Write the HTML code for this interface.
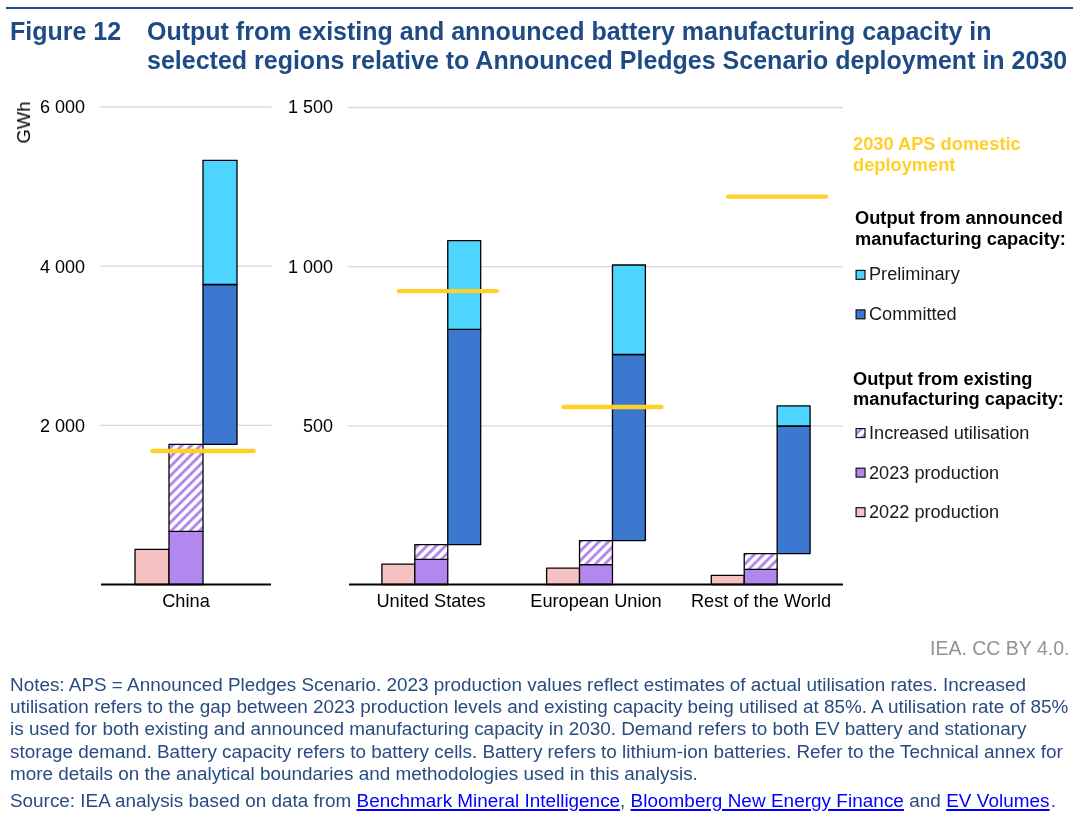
<!DOCTYPE html>
<html><head><meta charset="utf-8">
<style>
html,body{margin:0;padding:0;background:#fff;}
body{width:1080px;height:821px;overflow:hidden;position:relative;font-family:"Liberation Sans", sans-serif;}
.t{position:absolute;white-space:nowrap;will-change:transform;}
a{color:#0000ff;text-decoration:underline;text-decoration-thickness:1.8px;text-underline-offset:2px;}
svg{position:absolute;left:0;top:0;}
</style></head><body>
<div style="position:absolute;left:6px;top:7px;width:1067px;height:2px;background:#1e4b85;"></div>
<div class="t" style="left:10.00px;top:16.33px;font-size:25px;line-height:30px;color:#1e4b85;font-weight:bold;">Figure 12</div>
<div class="t" style="left:147.00px;top:16.33px;font-size:25px;line-height:30px;color:#1e4b85;font-weight:bold;">Output from existing and announced battery manufacturing capacity in</div>
<div class="t" style="left:147.00px;top:45.43px;font-size:25px;line-height:30px;color:#1e4b85;font-weight:bold;">selected regions relative to Announced Pledges Scenario deployment in 2030</div>
<svg width="1080" height="821" viewBox="0 0 1080 821">
<defs><pattern id="hatch" patternUnits="userSpaceOnUse" width="6.6" height="6.6" patternTransform="rotate(45)"><rect width="6.6" height="6.6" fill="#fff"/><rect x="0" y="0" width="2.9" height="6.6" fill="#b388ee"/></pattern></defs>
<line x1="100.3" y1="107" x2="271.5" y2="107" stroke="#d9d9d9" stroke-width="1.3"/>
<line x1="348.2" y1="107.5" x2="843" y2="107.5" stroke="#d9d9d9" stroke-width="1.3"/>
<line x1="100.3" y1="266.2" x2="271.5" y2="266.2" stroke="#d9d9d9" stroke-width="1.3"/>
<line x1="348.2" y1="266.7" x2="843" y2="266.7" stroke="#d9d9d9" stroke-width="1.3"/>
<line x1="100.3" y1="425.3" x2="271.5" y2="425.3" stroke="#d9d9d9" stroke-width="1.3"/>
<line x1="348.2" y1="425.8" x2="843" y2="425.8" stroke="#d9d9d9" stroke-width="1.3"/>
<rect x="135" y="549.3" width="34" height="35.200000000000045" fill="#f5c1c1" stroke="#000" stroke-width="1.3" stroke-linejoin="round"/>
<rect x="169" y="531.4" width="34" height="53.10000000000002" fill="#b388ee" stroke="#000" stroke-width="1.3" stroke-linejoin="round"/>
<rect x="169" y="444.3" width="34" height="87.09999999999997" fill="url(#hatch)" stroke="#000" stroke-width="1.3" stroke-linejoin="round"/>
<rect x="203" y="284.5" width="34" height="159.8" fill="#3c78d0" stroke="#000" stroke-width="1.3" stroke-linejoin="round"/>
<rect x="203" y="160.4" width="34" height="124.1" fill="#4dd4ff" stroke="#000" stroke-width="1.3" stroke-linejoin="round"/>
<rect x="381.9" y="564.1" width="32.93000000000001" height="20.399999999999977" fill="#f5c1c1" stroke="#000" stroke-width="1.3" stroke-linejoin="round"/>
<rect x="414.83" y="559.4" width="32.93000000000001" height="25.100000000000023" fill="#b388ee" stroke="#000" stroke-width="1.3" stroke-linejoin="round"/>
<rect x="414.83" y="544.7" width="32.93000000000001" height="14.699999999999932" fill="url(#hatch)" stroke="#000" stroke-width="1.3" stroke-linejoin="round"/>
<rect x="447.76" y="329.4" width="32.92999999999995" height="215.30000000000007" fill="#3c78d0" stroke="#000" stroke-width="1.3" stroke-linejoin="round"/>
<rect x="447.76" y="240.7" width="32.92999999999995" height="88.69999999999999" fill="#4dd4ff" stroke="#000" stroke-width="1.3" stroke-linejoin="round"/>
<rect x="546.6" y="568.1" width="32.92999999999995" height="16.399999999999977" fill="#f5c1c1" stroke="#000" stroke-width="1.3" stroke-linejoin="round"/>
<rect x="579.53" y="564.7" width="32.930000000000064" height="19.799999999999955" fill="#b388ee" stroke="#000" stroke-width="1.3" stroke-linejoin="round"/>
<rect x="579.53" y="540.6" width="32.930000000000064" height="24.100000000000023" fill="url(#hatch)" stroke="#000" stroke-width="1.3" stroke-linejoin="round"/>
<rect x="612.46" y="354.5" width="32.92999999999995" height="186.10000000000002" fill="#3c78d0" stroke="#000" stroke-width="1.3" stroke-linejoin="round"/>
<rect x="612.46" y="265.0" width="32.92999999999995" height="89.5" fill="#4dd4ff" stroke="#000" stroke-width="1.3" stroke-linejoin="round"/>
<rect x="711.3" y="575.3" width="32.92999999999995" height="9.200000000000045" fill="#f5c1c1" stroke="#000" stroke-width="1.3" stroke-linejoin="round"/>
<rect x="744.2299999999999" y="569.3" width="32.930000000000064" height="15.200000000000045" fill="#b388ee" stroke="#000" stroke-width="1.3" stroke-linejoin="round"/>
<rect x="744.2299999999999" y="553.6" width="32.930000000000064" height="15.699999999999932" fill="url(#hatch)" stroke="#000" stroke-width="1.3" stroke-linejoin="round"/>
<rect x="777.16" y="426.0" width="32.92999999999995" height="127.60000000000002" fill="#3c78d0" stroke="#000" stroke-width="1.3" stroke-linejoin="round"/>
<rect x="777.16" y="405.8" width="32.92999999999995" height="20.19999999999999" fill="#4dd4ff" stroke="#000" stroke-width="1.3" stroke-linejoin="round"/>
<line x1="152.39999999999998" y1="451.0" x2="253.60000000000002" y2="451.0" stroke="#ffd027" stroke-width="4.4" stroke-linecap="round"/>
<line x1="398.81" y1="291.1" x2="496.71" y2="291.1" stroke="#ffd027" stroke-width="4.4" stroke-linecap="round"/>
<line x1="563.5100000000001" y1="407.0" x2="661.41" y2="407.0" stroke="#ffd027" stroke-width="4.4" stroke-linecap="round"/>
<line x1="728.21" y1="196.6" x2="826.1099999999999" y2="196.6" stroke="#ffd027" stroke-width="4.4" stroke-linecap="round"/>
<line x1="101" y1="584.5" x2="271" y2="584.5" stroke="#000" stroke-width="2"/>
<line x1="349" y1="584.5" x2="843" y2="584.5" stroke="#000" stroke-width="2"/>
<rect x="856.1" y="270.4" width="8.9" height="8.9" fill="#4dd4ff" stroke="#111" stroke-width="1.2"/>
<rect x="856.1" y="309.9" width="8.9" height="8.9" fill="#3c78d0" stroke="#111" stroke-width="1.2"/>
<rect x="856.1" y="428.59999999999997" width="8.9" height="8.9" fill="url(#hatch)" stroke="#111" stroke-width="1.2"/>
<rect x="856.1" y="468.2" width="8.9" height="8.9" fill="#b388ee" stroke="#111" stroke-width="1.2"/>
<rect x="856.1" y="507.7" width="8.9" height="8.9" fill="#f5c1c1" stroke="#111" stroke-width="1.2"/>
</svg>
<div class="t" style="right:995.00px;top:96.16px;font-size:18px;line-height:22px;color:#000;font-weight:normal;text-align:right;">6 000</div>
<div class="t" style="right:995.00px;top:255.96px;font-size:18px;line-height:22px;color:#000;font-weight:normal;text-align:right;">4 000</div>
<div class="t" style="right:995.00px;top:414.66px;font-size:18px;line-height:22px;color:#000;font-weight:normal;text-align:right;">2 000</div>
<div class="t" style="right:746.70px;top:96.36px;font-size:18px;line-height:22px;color:#000;font-weight:normal;text-align:right;">1 500</div>
<div class="t" style="right:746.70px;top:256.06px;font-size:18px;line-height:22px;color:#000;font-weight:normal;text-align:right;">1 000</div>
<div class="t" style="right:746.70px;top:414.86px;font-size:18px;line-height:22px;color:#000;font-weight:normal;text-align:right;">500</div>
<div class="t" style="left:3.7px;top:113.1px;width:40px;height:20px;font-size:18px;line-height:20px;transform:rotate(-90deg) scaleX(1.025);transform-origin:center;text-align:center;">GWh</div>
<div class="t" style="left:-14.00px;width:400px;top:590.09px;font-size:18.2px;line-height:22px;color:#000;font-weight:normal;text-align:center;">China</div>
<div class="t" style="left:231.30px;width:400px;top:590.09px;font-size:18.2px;line-height:22px;color:#000;font-weight:normal;text-align:center;">United States</div>
<div class="t" style="left:396.00px;width:400px;top:590.09px;font-size:18.2px;line-height:22px;color:#000;font-weight:normal;text-align:center;">European Union</div>
<div class="t" style="left:560.90px;width:400px;top:590.09px;font-size:18.2px;line-height:22px;color:#000;font-weight:normal;text-align:center;">Rest of the World</div>
<div class="t" style="left:852.90px;top:132.57px;font-size:18.25px;line-height:22px;color:#ffd027;font-weight:bold;">2030 APS domestic</div>
<div class="t" style="left:852.90px;top:154.07px;font-size:18.25px;line-height:22px;color:#ffd027;font-weight:bold;">deployment</div>
<div class="t" style="left:854.70px;top:206.87px;font-size:18.25px;line-height:22px;color:#000;font-weight:bold;">Output from announced</div>
<div class="t" style="left:854.70px;top:227.67px;font-size:18.25px;line-height:22px;color:#000;font-weight:bold;">manufacturing capacity:</div>
<div class="t" style="left:868.50px;top:263.21px;font-size:18.15px;line-height:22px;color:#1a1a1a;font-weight:normal;">Preliminary</div>
<div class="t" style="left:868.50px;top:303.31px;font-size:18.15px;line-height:22px;color:#1a1a1a;font-weight:normal;">Committed</div>
<div class="t" style="left:853.30px;top:367.67px;font-size:18.25px;line-height:22px;color:#000;font-weight:bold;">Output from existing</div>
<div class="t" style="left:853.30px;top:388.37px;font-size:18.25px;line-height:22px;color:#000;font-weight:bold;">manufacturing capacity:</div>
<div class="t" style="left:868.50px;top:421.91px;font-size:18.15px;line-height:22px;color:#1a1a1a;font-weight:normal;">Increased utilisation</div>
<div class="t" style="left:868.50px;top:461.51px;font-size:18.15px;line-height:22px;color:#1a1a1a;font-weight:normal;">2023 production</div>
<div class="t" style="left:868.50px;top:501.01px;font-size:18.15px;line-height:22px;color:#1a1a1a;font-weight:normal;">2022 production</div>
<div class="t" style="right:10.80px;top:636.54px;font-size:19.5px;line-height:23px;color:#939393;font-weight:normal;text-align:right;">IEA. CC BY 4.0.</div>
<div class="t" style="left:10.00px;top:672.65px;font-size:18.9px;line-height:23px;color:#284c80;font-weight:normal;">Notes: APS = Announced Pledges Scenario. 2023 production values reflect estimates of actual utilisation rates. Increased</div>
<div class="t" style="left:10.00px;top:695.05px;font-size:18.9px;line-height:23px;color:#284c80;font-weight:normal;letter-spacing:-0.01px;">utilisation refers to the gap between 2023 production levels and existing capacity being utilised at 85%. A utilisation rate of 85%</div>
<div class="t" style="left:10.00px;top:717.45px;font-size:18.9px;line-height:23px;color:#284c80;font-weight:normal;">is used for both existing and announced manufacturing capacity in 2030. Demand refers to both EV battery and stationary</div>
<div class="t" style="left:10.00px;top:739.85px;font-size:18.9px;line-height:23px;color:#284c80;font-weight:normal;">storage demand. Battery capacity refers to battery cells. Battery refers to lithium-ion batteries. Refer to the Technical annex for</div>
<div class="t" style="left:10.00px;top:762.25px;font-size:18.9px;line-height:23px;color:#284c80;font-weight:normal;">more details on the analytical boundaries and methodologies used in this analysis.</div>
<div class="t" style="left:10.00px;top:788.75px;font-size:18.9px;line-height:23px;color:#284c80;font-weight:normal;">Source: IEA analysis based on data from <a>Benchmark Mineral Intelligence</a>, <span style="letter-spacing:0.05px"><a>Bloomberg New Energy Finance</a> and <a>EV Volumes</a></span><span style="margin-left:1.2px">.</span></div>
</body></html>
